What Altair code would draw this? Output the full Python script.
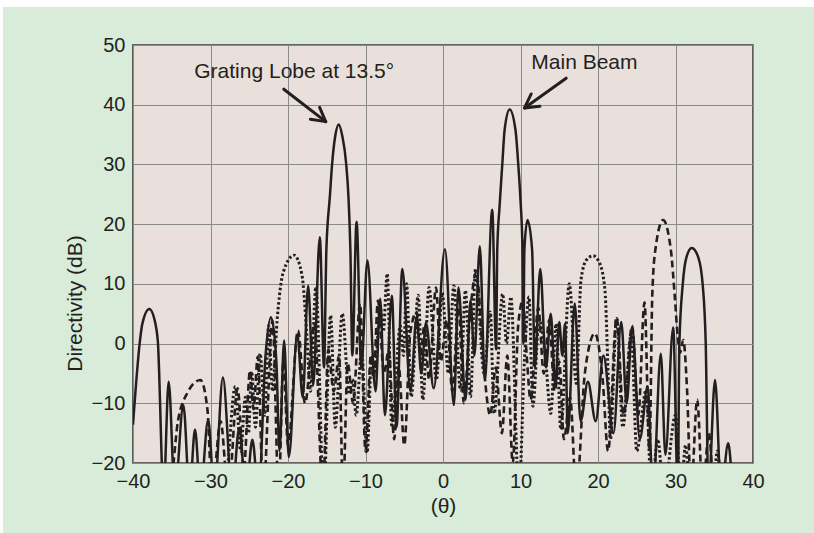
import math
import altair as alt
import pandas as pd

# ---------------- data ----------------
solid_theta = [-40, -39.1, -38.8, -37.9, -37.1, -36.8, -36.05, -35.4, -34.6, -33.5, -32.7, -32.0, -31.3,
               -30.3, -29.5, -28.4, -27.2, -26.3, -25.4, -24.6, -23.8, -22.9, -22.2, -21.5, -21.1,
               -20.5, -19.9, -18.8, -18.1, -17.4, -16.75, -15.9, -15.35, -15.05, -14.6, -14.3, -13.9,
               -13.45, -13.0, -12.5, -12.2, -11.95, -11.7, -11.15, -10.55, -9.75, -8.7, -8.1, -7.5,
               -6.6, -6.0, -5.25, -4.2, -3.4, -2.8, -2.2, -1.2, 0.25, 1.4, 2.0, 2.9, 3.55, 4.05, 4.75,
               5.4, 6.35, 6.85, 7.0, 7.3, 7.66, 7.95, 8.6, 9.35, 9.7, 10.0, 10.26, 10.37, 10.5, 10.9,
               11.5, 11.85, 12.55, 13.3, 13.9, 14.5, 15.0, 15.4, 15.75, 16.1, 17.0, 17.75, 18.7, 19.7,
               20.7, 22.0, 23.0, 23.7, 24.4, 25.4, 26.4, 27.1, 28.1, 28.7, 29.7, 30.3, 30.5, 30.94,
               31.4, 32.1, 32.95, 33.5, 33.9, 34.25, 35.1, 35.9, 36.8, 37.5, 40]
solid_db = [-13.6, 0.5, 3.3, 5.8, 3.3, 0.5, -25, -6.4, -25, -10.3, -25, -14.4, -25,
            -12.8, -25, -5.7, -25, -14.2, -25, -16.1, -25, -2, 4.4, -3, -18,
            0.5, -19, 1.5, -9, 9.7, -7, 17.8, -4, 15.7, 24.6, 30.2, 34.8,
            36.7, 34.8, 30.2, 24.6, 15.7, -2, 20.4, -4, 13.9, -8, 7.5, -12,
            8, -14, 12.5, -8, 4.5, -5, 3.5, -7.5, 15.8, -10.3, 9.4, -9.4, 7.2, -2, 16.3,
            -6, 22.4, -1, 15.7, 23, 30.2, 35.8, 39.2, 35.8, 30.2, 24, 15.7, 0, 15.7, 20.7,
            15.7, -4, 12.5, -4, 5, -7, 3.6, -2, 3.3, -15, 6.7, -13, -6.4, -13,
            -2, -15, 3.6, -10, 2.8, -16, -7.2, -25, -1.7, -18.6, 2.7, -25, 0, 10,
            14.4, 16.0, 14.4, 10, 0, -25, -6.1, -25, -16.7, -25, -30]

dashed_theta = [-40, -35.3, -34.2, -33.0, -31.3, -30.4, -29.8, -28.7, -27.7, -26.5, -25.7, -24.9, -24.45,
                -23.9, -23.2, -22.0, -21.2, -20.6, -20.0, -18.7, -17.8, -16.6, -15.5, -14.8, -14.1,
                -13.4, -12.9, -12.3, -11.6, -10.7, -10.0, -9.3, -8.95, -8.4, -7.6, -7.0, -6.3, -5.7,
                -5.0, -4.2, -3.4, -2.9, -2.4, -1.8, -0.9, -0.3, 0.5, 1.2, 2.0, 2.7, 3.5, 4.3, 5.2,
                6.1, 6.8, 7.6, 8.3, 9.0, 9.7, 10.3, 10.8, 11.3, 12.3, 13.0, 13.7, 14.4, 15.0, 15.6,
                16.4, 17.2, 18.3, 19.6, 20.6, 21.3, 22.4, 23.3, 24.4, 25.2, 26.0, 26.65, 27.0, 27.4,
                28.4, 29.4, 29.9, 30.3, 30.6, 31.0, 31.5, 32.0, 32.8, 33.5, 34.3, 35.0, 40]
dashed_db = [-30, -25, -13, -8.3, -6.1, -11, -25, -13, -25, -7.5, -21, -4.5, -11,
             -2.2, -25, 3.8, -25, -3, -17, 2.2, -10, 3.3, -25, -1, -8,
             -2, -25, -3.3, -10, 6.7, -18, -2, -6, 7.2, -5, -1, -16, -4,
             -17, 2, 5.3, -2, 3, -6, 9.4, -3, 4, -8, 6, -10, 5, 12, -3,
             -12, -4, -15, -2, -20, 3, 7.2, -2, -9.4, 6, -5, 3.9, -8, -3, -16,
             -9, -25, -5, 1.7, -6, -18, 4.4, -12, 3, -12, 6.9, -18, 8, 15.7,
             20.7, 15.7, 8, 1, -1.5, 0.6, -8, -25, -9.4, -25, -15, -25, -30]

dotted_theta = [-40, -28.2, -26.8, -26.1, -25.5, -25.1, -24.7, -24.2, -23.6, -23.0, -22.5, -22.0, -21.4,
                -20.6, -19.2, -18.2, -17.6, -17.1, -16.4, -15.4, -14.5, -13.9, -13.0, -12.1, -11.7,
                -11.2, -10.5, -9.8, -9.2, -8.8, -8.1, -7.7, -7.2, -6.6, -5.5, -5.1, -4.7, -4.1, -3.2,
                -2.6, -1.8, -0.85, -0.1, 0.7, 1.4, 2.25, 2.9, 3.55, 4.2, 5.3, 6.1, 6.6, 7.7, 8.2, 8.75,
                9.8, 10.5, 11.1, 11.6, 12.4, 13.2, 13.9, 14.6, 15.2, 16.3, 17.2, 17.8, 18.5, 19.35,
                20.2, 20.9, 21.3, 21.6, 22.4, 23.2, 24.3, 25.0, 26.2, 26.9, 27.7, 28.5, 30.0, 30.7,
                31.3, 31.9, 34.8, 35.4, 36.0, 40]
dotted_db = [-30, -25, -7.2, -18, -9, -15, -4.7, -14, -1.7, -12, 3, -8, 4,
             12, 14.8, 11.5, 2, -8, 9.5, -25, 4.7, -14, 5, -8.5, -6,
             -12, -1.1, -18.3, -2, -5, 6.1, 2, 11.7, -14, 3, -2, 10, -8.9, 8.1,
             -9.4, 9.4, -6.1, 8.5, -5, 9.7, -7.8, 8.9, -8.9, 12.5, -5, 5.3, -11.7, 8.3, 0, 7.8,
             -25, -3, 7.8, -10.5, 4, -2, -11.7, 3.3, -14.4, 10, -6.7, 10.6, 14, 14.7,
             13.5, 8.9, -5, -16, 4.2, -14, 1.7, -18, -7.8, -25, -16, -25, -12, -25,
             -17, -25, -25, -18, -25, -30]

x_ticks = [-40, -30, -20, -10, 0, 10, 20, 30, 40]
y_ticks = [-20, -10, 0, 10, 20, 30, 40, 50]

note_text = ["Grating Lobe at 13.5°", "Main Beam"]
note_theta = [-19.2, 18.25]
note_db = [45.5, 47.0]

arrow_start_theta = [-20.54, 15.89]
arrow_start_db = [42.6, 44.44]
arrow_tip_theta = [-15.13, 10.52]
arrow_tip_db = [37.17, 39.46]

# ---------------- styling ----------------
W, H = 620, 418
GREEN = "#D9EBD9"
PLOT_BG = "#EAE0DB"
INK = "#231f20"
FONT = "Liberation Sans"

XS = alt.Scale(domain=[-40, 40], nice=False, zero=False)
YS = alt.Scale(domain=[-20, 50], nice=False, zero=False)

x_enc = alt.X("theta:Q", scale=XS,
              axis=alt.Axis(values=x_ticks, title="(θ)", labelFlush=False, labelPadding=8,
                            titleX=310, titleY=43, titleBaseline="middle", titleAlign="center"))
y_enc = alt.Y("db:Q", scale=YS,
              axis=alt.Axis(values=y_ticks, title="Directivity (dB)", labelFlush=False, labelPadding=8,
                            titleX=-58, titleY=258, titleAngle=270, titleBaseline="middle",
                            titleAlign="center"))


def frame(t, d):
    return pd.DataFrame({"theta": t, "db": d})


dotted = alt.Chart(frame(dotted_theta, dotted_db)).mark_line(
    clip=True, interpolate="monotone", color=INK, strokeWidth=3.0, strokeDash=[2.5, 2.3]
).encode(x=x_enc, y=y_enc)

dashed = alt.Chart(frame(dashed_theta, dashed_db)).mark_line(
    clip=True, interpolate="monotone", color=INK, strokeWidth=2.6, strokeDash=[7, 4]
).encode(x=x_enc, y=y_enc)

solid = alt.Chart(frame(solid_theta, solid_db)).mark_line(
    clip=True, interpolate="monotone", color=INK, strokeWidth=2.5
).encode(x=x_enc, y=y_enc)

notes = alt.Chart(pd.DataFrame({"theta": note_theta, "db": note_db, "label": note_text})).mark_text(
    font=FONT, fontSize=21, color=INK, align="center", baseline="middle"
).encode(x=x_enc, y=y_enc, text="label:N")

# arrows: shaft + two head strokes, built from start/tip points
sx, sy = W / 80.0, H / 70.0
rows = []
for st, sd, tt, td in zip(arrow_start_theta, arrow_start_db, arrow_tip_theta, arrow_tip_db):
    rows.append({"theta": st, "db": sd, "theta2": tt, "db2": td})
    vx = (st - tt) * sx
    vy = -(sd - td) * sy
    n = math.hypot(vx, vy)
    vx, vy = vx / n, vy / n
    for a in (math.radians(29), math.radians(-29)):
        rx = vx * math.cos(a) - vy * math.sin(a)
        ry = vx * math.sin(a) + vy * math.cos(a)
        ex, ey = rx * 15.5, ry * 15.5
        rows.append({"theta": tt, "db": td, "theta2": tt + ex / sx, "db2": td - ey / sy})

arrows = alt.Chart(pd.DataFrame(rows)).mark_rule(
    color=INK, strokeWidth=3, strokeCap="round"
).encode(x=x_enc, y=y_enc, x2="theta2:Q", y2="db2:Q")

blank = pd.DataFrame({"k": [0]})
top_strip = alt.Chart(blank).mark_rect(color="white").encode(
    x=alt.value(-133), x2=alt.value(681), y=alt.value(-45), y2=alt.value(-38))
left_strip = alt.Chart(blank).mark_rect(color="white").encode(
    x=alt.value(-133), x2=alt.value(-130), y=alt.value(-45), y2=alt.value(488))

chart = alt.layer(
    top_strip, left_strip, dotted, dashed, solid, arrows, notes
).properties(
    width=W, height=H,
    padding={"left": 133, "top": 45, "right": 61, "bottom": 70},
    autosize=alt.AutoSizeParams(type="none"),
).configure(
    background=GREEN
).configure_view(
    fill=PLOT_BG, stroke="#3a3a3a", strokeWidth=1.6
).configure_axis(
    grid=True, gridColor="#8a8a8a", gridWidth=1, domain=False, ticks=False,
    labelFont=FONT, labelFontSize=20, labelColor=INK,
    titleFont=FONT, titleFontSize=21, titleFontWeight="normal", titleColor=INK,
)

chart.save("out.html", embed_options={"renderer": "svg", "actions": False})
